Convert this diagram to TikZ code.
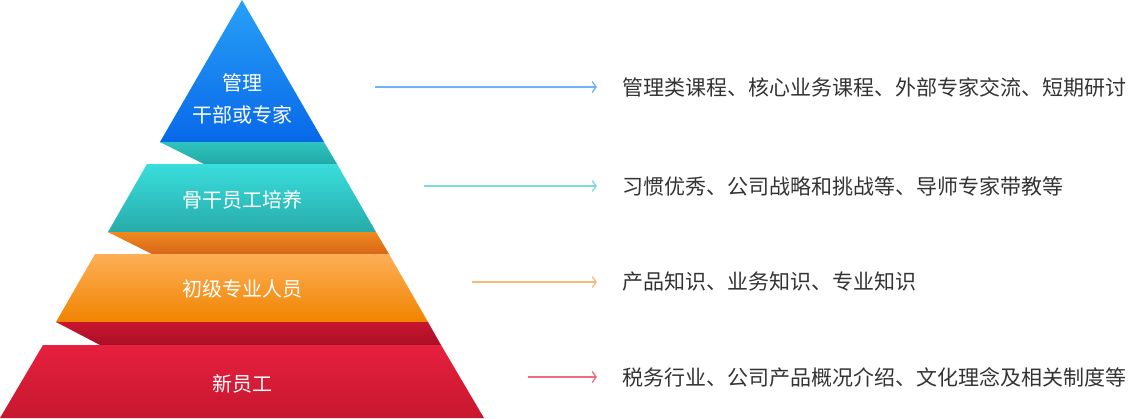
\documentclass[tikz,border=0pt]{standalone}
\usepackage{fontspec}
\setmainfont{Noto Sans CJK SC}
\usetikzlibrary{arrows.meta}

% colours of the pyramid
\definecolor{blueTop}{HTML}{28A0F7}
\definecolor{blueBot}{HTML}{0868E9}
\definecolor{tealTop}{HTML}{39DEDD}
\definecolor{tealBot}{HTML}{27ABA9}
\definecolor{tealFoldTop}{HTML}{2EC4BF}
\definecolor{tealFoldBot}{HTML}{23A9A6}
\definecolor{orangeTop}{HTML}{FDAF57}
\definecolor{orangeBot}{HTML}{F18400}
\definecolor{orangeFoldTop}{HTML}{EF8A1F}
\definecolor{orangeFoldBot}{HTML}{D8661A}
\definecolor{redTop}{HTML}{E6203E}
\definecolor{redBot}{HTML}{C7172E}
\definecolor{redFoldTop}{HTML}{C8162F}
\definecolor{redFoldBot}{HTML}{AA0F26}
\definecolor{textGray}{HTML}{333333}

\tikzset{
    tierlabel/.style={text=white, font=\fontsize{20}{32}\selectfont, align=center, inner sep=0pt},
    course/.style={text=textGray, font=\fontsize{21}{25}\selectfont, anchor=west, inner sep=0pt},
    pointer/.style={line width=1.3pt, -{Straight Barb[length=4pt,width=11pt]}, shorten >=25pt},
}

\begin{document}
\begin{tikzpicture}[x=1pt, y=-1pt]

    \useasboundingbox (0,0) rectangle (1130,418);

    % Top: triangle
    \shade[top color=blueTop, bottom color=blueBot] (242,0) -- (324,142) -- (160,142) -- cycle;

    % Fold under the triangle
    \shade[top color=tealFoldTop, bottom color=tealFoldBot] (160,142) -- (324,142) -- (337,164) -- (204,164) -- cycle;

    % Second tier
    \shade[top color=tealTop, bottom color=tealBot] (147,164) -- (337,164) -- (376,232) -- (108,232) -- cycle;

    % Fold under second tier
    \shade[top color=orangeFoldTop, bottom color=orangeFoldBot] (108,232) -- (376,232) -- (389,254) -- (152,254) -- cycle;

    % Third tier
    \shade[top color=orangeTop, bottom color=orangeBot] (95,254) -- (389,254) -- (428,322) -- (56,322) -- cycle;

    % Fold under third tier
    \shade[top color=redFoldTop, bottom color=redFoldBot] (56,322) -- (428,322) -- (441,345) -- (100,345) -- cycle;

    % Bottom tier
    \shade[top color=redTop, bottom color=redBot] (43,345) -- (441,345) -- (484,418) -- (0,418) -- cycle;

    % Tier labels
    \node[tierlabel] (lab1) at (242,99) {管理\\干部或专家};
    \node[tierlabel] (lab2) at (242,200) {骨干员工培养};
    \node[tierlabel] (lab3) at (242,289) {初级专业人员};
    \node[tierlabel] (lab4) at (242,384) {新员工};

    % Content on the right
    \node[course] (t1) at (622,87) {管理类课程、核心业务课程、外部专家交流、短期研讨};
    \node[course] (t2) at (622,186) {习惯优秀、公司战略和挑战等、导师专家带教等};
    \node[course] (t3) at (622,282) {产品知识、业务知识、专业知识};
    \node[course] (t4) at (622,377) {税务行业、公司产品概况介绍、文化理念及相关制度等};

    % Arrows from the pyramid to the text
    \coordinate (s1) at (375,87);
    \coordinate (s2) at (424,186);
    \coordinate (s3) at (472,282);
    \coordinate (s4) at (528,377);
    \draw[pointer, color={rgb,255:red,112;green,178;blue,247}] (s1) -- (t1.west);
    \draw[pointer, color={rgb,255:red,128;green,218;blue,219}] (s2) -- (t2.west);
    \draw[pointer, color={rgb,255:red,249;green,187;blue,120}] (s3) -- (t3.west);
    \draw[pointer, color={rgb,255:red,238;green,107;blue,128}] (s4) -- (t4.west);

\end{tikzpicture}
\end{document}
